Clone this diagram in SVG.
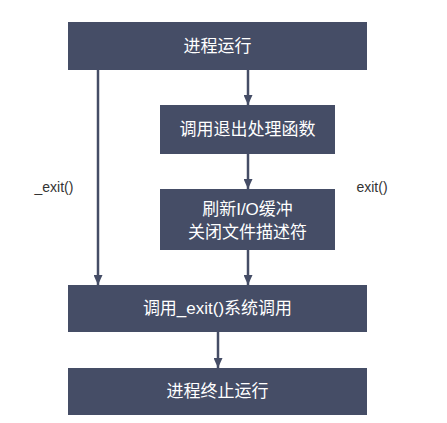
<svg xmlns="http://www.w3.org/2000/svg" width="447" height="423" viewBox="0 0 447 423">
<style>
.box{fill:#454d66}
.t{fill:#ffffff;font-family:"Liberation Sans","Noto Sans CJK SC",sans-serif;font-size:17px;text-anchor:middle;dominant-baseline:central}
.lbl{fill:#333333;font-family:"Liberation Sans","Noto Sans CJK SC",sans-serif;font-size:14px;text-anchor:middle;dominant-baseline:central}
.c{stroke:#454d66;stroke-width:2.5;fill:none}
</style>
<defs>
<marker id="ah" markerWidth="10" markerHeight="9" refX="10" refY="4.5" orient="auto" markerUnits="userSpaceOnUse">
<path d="M0,0 L10,4.5 L0,9 Z" fill="#454d66"/>
</marker>
</defs>
<rect width="447" height="423" fill="#ffffff"/>
<g id="connectors">
<line class="c" x1="98" y1="70" x2="98" y2="285" marker-end="url(#ah)"/>
<line class="c" x1="248" y1="70" x2="248" y2="105" marker-end="url(#ah)"/>
<line class="c" x1="248" y1="154" x2="248" y2="189" marker-end="url(#ah)"/>
<line class="c" x1="248" y1="250" x2="248" y2="285" marker-end="url(#ah)"/>
<line class="c" x1="218" y1="332" x2="218" y2="368" marker-end="url(#ah)"/>
<text class="lbl" x="54" y="187">_exit()</text>
<text class="lbl" x="372" y="187">exit()</text>
</g>
<g id="n1">
<rect class="box" x="68" y="22" width="299" height="48"/>
<text class="t" x="217.5" y="46">进程运行</text>
</g>
<g id="n2">
<rect class="box" x="160" y="105" width="175" height="49"/>
<text class="t" x="247.5" y="129.5">调用退出处理函数</text>
</g>
<g id="n3">
<rect class="box" x="160" y="189" width="175" height="61"/>
<text class="t" x="247.5" y="209">刷新I/O缓冲</text>
<text class="t" x="247.5" y="232">关闭文件描述符</text>
</g>
<g id="n4">
<rect class="box" x="68" y="285" width="299" height="47"/>
<text class="t" x="217.5" y="308.5">调用_exit()系统调用</text>
</g>
<g id="n5">
<rect class="box" x="68" y="368" width="299" height="47"/>
<text class="t" x="217.5" y="391.5">进程终止运行</text>
</g>
</svg>
